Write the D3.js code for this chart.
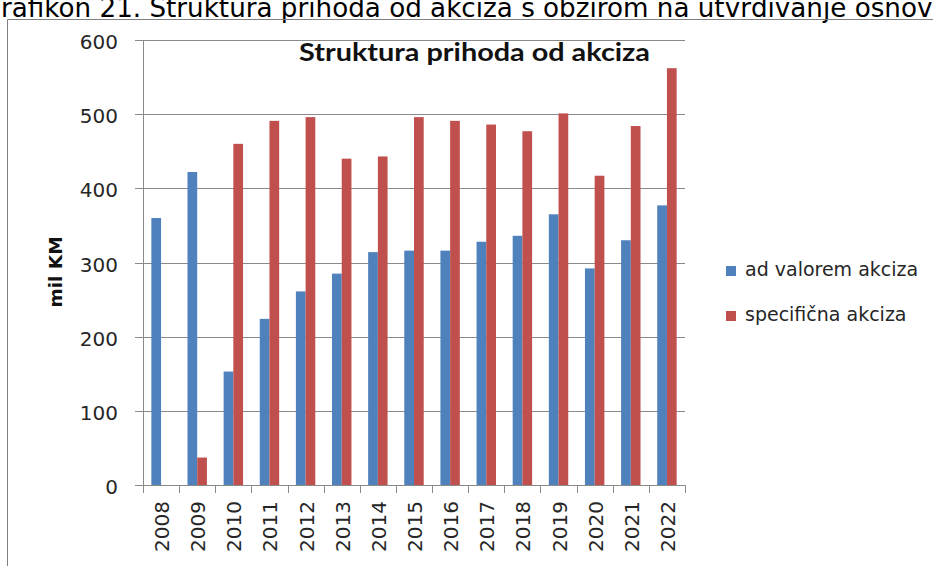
<!DOCTYPE html>
<html>
<head>
<meta charset="utf-8">
<script src="https://cdn.jsdelivr.net/npm/d3@7"></script>
<style>
  html, body { margin: 0; padding: 0; background: #fff; }
  svg { display: block; }
</style>
</head>
<body>
<svg id="chart" width="933" height="566"></svg>
<script>
const years = ["2008","2009","2010","2011","2012","2013","2014","2015","2016","2017","2018","2019","2020","2021","2022"];
const seriesNames = ["ad valorem akciza", "specifična akciza"];
const adValorem = [360, 422, 153, 224, 261, 285, 314, 316, 316, 328, 336, 365, 292, 330, 377];
const specificna = [0, 37, 460, 491, 496, 440, 443, 496, 491, 486, 477, 501, 417, 484, 562];
const yTicks = [0, 100, 200, 300, 400, 500, 600];
const colors = ["#4F81BD", "#C0504D"];
const chartTitle = "Struktura prihoda od akciza";
const yTitle = "mil KM";
const caption = "Grafikon 21. Struktura prihoda od akciza s obzirom na utvrđivanje osnovice";

const svg = d3.select("#chart");
const L = 143, R = 685, T = 40, B = 485;
const gridColor = "#8a8a8a";
const textColor = "#262626";

const y = d3.scaleLinear().domain([0, 600]).range([B, T]);
const x0 = d3.scaleBand().domain(years).range([L, R]).padding(0);
const x1 = d3.scaleBand().domain(seriesNames).range([0, x0.bandwidth()]).paddingInner(0).paddingOuter(0.86);

// caption at top (partly clipped, as in the reference)
const capFont = 26.2;
const cap = svg.append("text")
  .attr("y", 17)
  .attr("font-family", "DejaVu Sans, Verdana, sans-serif")
  .attr("font-size", capFont)
  .attr("fill", "#000")
  .text(caption);
const gW = (function(){
  const t = svg.append("text").attr("font-family","DejaVu Sans, Verdana, sans-serif").attr("font-size",capFont).text("G");
  const w = t.node().getComputedTextLength(); t.remove(); return w;
})();
cap.attr("x", -gW + 1);

// frame
svg.append("path")
  .attr("d", "M7.5,566 L7.5,19.5 L933,19.5")
  .attr("fill", "none")
  .attr("stroke", "#7f7f7f")
  .attr("stroke-width", 1);

// gridlines + y ticks
svg.append("g").selectAll("line").data(yTicks).join("line")
  .attr("x1", L - 8).attr("x2", R)
  .attr("y1", d => Math.round(y(d)) + 0.5).attr("y2", d => Math.round(y(d)) + 0.5)
  .attr("stroke", gridColor).attr("stroke-width", 1);

// y axis line
svg.append("line")
  .attr("x1", L + 0.5).attr("x2", L + 0.5)
  .attr("y1", T).attr("y2", B + 0.5)
  .attr("stroke", gridColor);

// x ticks at boundaries
const bounds = years.map(d => x0(d)).concat([R]);
svg.append("g").selectAll("line").data(bounds).join("line")
  .attr("x1", d => Math.round(d) + 0.5).attr("x2", d => Math.round(d) + 0.5)
  .attr("y1", B).attr("y2", B + 8)
  .attr("stroke", gridColor);

// y labels
svg.append("g").selectAll("text").data(yTicks).join("text")
  .attr("x", 118).attr("y", d => y(d) + 2)
  .attr("text-anchor", "end")
  .attr("dominant-baseline", "central")
  .attr("font-family", "DejaVu Sans, Verdana, sans-serif")
  .attr("font-size", 20)
  .attr("fill", textColor)
  .text(d => d);

// x labels
svg.append("g").selectAll("text").data(years).join("text")
  .attr("transform", d => `translate(${x0(d) + x0.bandwidth()/2 + 1},501) rotate(-90)`)
  .attr("text-anchor", "end")
  .attr("dominant-baseline", "central")
  .attr("font-family", "DejaVu Sans, Verdana, sans-serif")
  .attr("font-size", 20)
  .attr("fill", textColor)
  .text(d => d);

// bars
const series = [adValorem, specificna];
series.forEach((vals, si) => {
  svg.append("g").selectAll("rect").data(years).join("rect")
    .attr("x", (d) => x0(d) + x1(seriesNames[si]))
    .attr("width", x1.bandwidth())
    .attr("y", (d, i) => y(vals[i]))
    .attr("height", (d, i) => B - y(vals[i]))
    .attr("fill", colors[si]);
});

// chart title
svg.append("text")
  .attr("x", 299).attr("y", 61)
  .attr("font-family", "Lato, Open Sans, sans-serif")
  .attr("font-weight", "bold")
  .attr("font-size", 24)
  .attr("fill", "#111")
  .attr("textLength", 351)
  .attr("lengthAdjust", "spacingAndGlyphs")
  .text(chartTitle);

// y title
svg.append("text")
  .attr("transform", "translate(55,272) rotate(-90)")
  .attr("text-anchor", "middle")
  .attr("dominant-baseline", "central")
  .attr("font-family", "DejaVu Sans, Verdana, sans-serif")
  .attr("font-weight", "bold")
  .attr("font-size", 18.5)
  .attr("fill", "#111")
  .text(yTitle);

// legend
const leg = svg.append("g");
seriesNames.forEach((name, i) => {
  const cy = 271 + i * 45;
  leg.append("rect")
    .attr("x", 726).attr("y", cy - 5)
    .attr("width", 10).attr("height", 10)
    .attr("fill", colors[i]);
  leg.append("text")
    .attr("x", 745).attr("y", cy + 5)
    .attr("font-family", "DejaVu Sans, Verdana, sans-serif")
    .attr("font-size", 19)
    .attr("fill", textColor)
    .text(name);
});
</script>
</body>
</html>
